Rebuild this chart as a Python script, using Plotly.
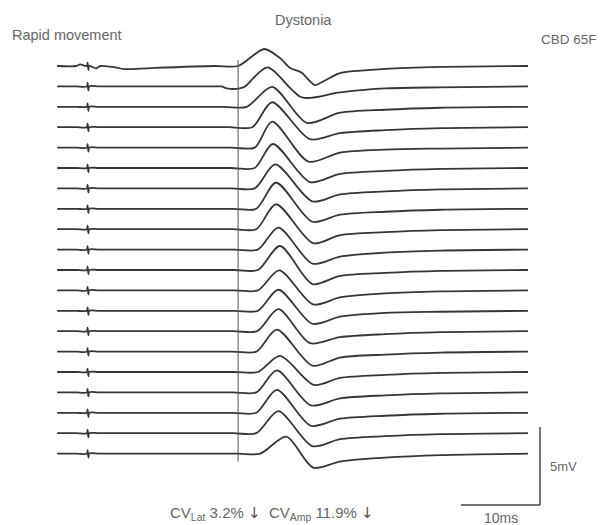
import plotly.graph_objects as go

# ---------------- data (ms relative to stimulus, mV relative to baseline) ----------------
trace_start_ms = -3.9
trace_end_ms = 55.7
reference_line_ms = 19.0

artifact_ms = [-0.15, -0.05, 0.05, 0.15]
artifact_mv = [0.0, 0.22, -0.26, 0.0]

onset_ms = [19.0, 19.9, 20.1, 20.8, 21.1, 21.1, 21.1, 21.3, 21.3, 21.5,
            21.5, 21.5, 21.5, 21.4, 21.3, 21.5, 21.3, 21.3, 21.3, 21.8]
peak_ms = [22.3, 22.7, 23.3, 23.3, 23.3, 23.4, 23.7, 23.8, 23.8, 24.1,
           24.3, 24.2, 24.1, 24.1, 23.9, 24.3, 23.9, 23.9, 24.1, 25.1]
peak_mv = [1.09, 1.22, 1.28, 1.60, 1.67, 1.54, 1.54, 1.67, 1.60, 1.41,
           1.54, 1.28, 1.35, 1.41, 1.41, 1.03, 1.41, 1.47, 1.41, 1.09]
trough_ms = [28.7, 27.1, 27.7, 28.1, 27.9, 28.1, 28.4, 28.4, 28.5, 28.4,
             28.4, 28.5, 28.4, 28.1, 28.4, 28.6, 28.2, 28.2, 28.4, 28.5]
trough_mv = [-1.22, -0.71, -1.03, -0.77, -0.90, -0.90, -0.83, -0.83, -0.90, -0.90,
             -0.90, -0.90, -0.83, -0.77, -0.90, -0.83, -0.83, -0.83, -0.83, -0.90]
rec1_ms = 31.9
rec1_mv = [-0.45, -0.38, -0.38, -0.38, -0.32, -0.38, -0.38, -0.38, -0.38, -0.45,
           -0.38, -0.45, -0.38, -0.38, -0.38, -0.38, -0.38, -0.38, -0.38, -0.51]
rec2_ms = 37.6
rec2_mv = [-0.19, -0.13, -0.19, -0.19, -0.13, -0.19, -0.19, -0.19, -0.19, -0.19,
           -0.19, -0.19, -0.13, -0.19, -0.19, -0.19, -0.19, -0.19, -0.19, -0.26]
rec3_ms = 44.6
rec3_mv = [-0.06, -0.06, -0.06, -0.06, -0.06, -0.06, -0.06, -0.06, -0.06, -0.06,
           -0.06, -0.06, -0.06, -0.06, -0.06, -0.06, -0.06, -0.06, -0.06, -0.10]

# extra detail points read from individual sweeps
extra_points = {
    0: [(-1.0, 0.1), (1.0, -0.15), (1.6, 0.0), (3.6, -0.1), (4.5, -0.2), (8.0, -0.13),
        (24.3, 0.51), (25.6, -0.13), (26.6, -0.32), (27.1, -0.45), (29.4, -1.09), (30.6, -0.77)],
    1: [(16.3, 0.0), (17.6, -0.13), (19.2, -0.13)],
}

scale_ms = 10
scale_mv = 5

title_left = "Rapid movement"
title_mid = "Dystonia"
title_right = "CBD 65F"
arrow = '<span style="font-family:DejaVu Sans;color:#555555">↓</span>'
cv_text = "CV<sub>Lat</sub> 3.2% " + arrow + "  CV<sub>Amp</sub> 11.9% " + arrow
scale_mv_label = "5mV"
scale_ms_label = "10ms"

# ---------------- layout constants (pixel mapping) ----------------
PAGE_MARGIN = 8          # browser body margin
W, H = 605 - PAGE_MARGIN, 525 - PAGE_MARGIN
PX_PER_MS = 7.9
PX_PER_MV = 15.6
STIM_PX = 88 - PAGE_MARGIN
BASE1_PX = 66 - PAGE_MARGIN
SPACING_MV = 20.4 / PX_PER_MV

x_range = [(0 - STIM_PX) / PX_PER_MS, (W - STIM_PX) / PX_PER_MS]
y_range = [(BASE1_PX - H) / PX_PER_MV, BASE1_PX / PX_PER_MV]

LINE_COLOR = "#363636"
TEXT_COLOR = "#666666"


def px_to_x(px):
    return (px - PAGE_MARGIN - STIM_PX) / PX_PER_MS


def px_to_y(py):
    return (BASE1_PX - (py - PAGE_MARGIN)) / PX_PER_MV


fig = go.Figure()

n = len(onset_ms)
for i in range(n):
    off = -i * SPACING_MV
    pts = [(trace_start_ms, 0.0), (-1.5, 0.0)]
    pts += list(zip(artifact_ms, artifact_mv))
    pts += [(1.5, 0.0), (onset_ms[i] - 3.0, 0.0), (onset_ms[i], 0.0),
            (peak_ms[i], peak_mv[i]), (trough_ms[i], trough_mv[i]),
            (rec1_ms, rec1_mv[i]), (rec2_ms, rec2_mv[i]), (rec3_ms, rec3_mv[i]),
            (trace_end_ms, 0.0)]
    extra = extra_points.get(i, [])
    if extra:
        ex_t = [p[0] for p in extra]
        pts = [p for p in pts if all(abs(p[0] - t) > 0.3 for t in ex_t)] + extra
    pts.sort(key=lambda p: p[0])
    fig.add_trace(go.Scatter(
        x=[p[0] for p in pts], y=[p[1] + off for p in pts],
        mode="lines", line=dict(color=LINE_COLOR, width=1.8, shape="spline", smoothing=0.8),
        hoverinfo="skip", showlegend=False))

# reference vertical line
top_y = 6 / PX_PER_MV
bot_y = -(n - 1) * SPACING_MV - 8 / PX_PER_MV
fig.add_shape(type="line", x0=reference_line_ms, x1=reference_line_ms, y0=top_y, y1=bot_y,
              line=dict(color="#555555", width=1))

# scale bars
sb_x = px_to_x(540)
sb_y = px_to_y(505)
fig.add_shape(type="line", x0=sb_x, x1=sb_x, y0=sb_y, y1=sb_y + scale_mv,
              line=dict(color="#444444", width=1.5))
fig.add_shape(type="line", x0=sb_x - scale_ms, x1=sb_x, y0=sb_y, y1=sb_y,
              line=dict(color="#444444", width=1.5))

anns = [
    (title_left, 10, 35, "left", 14.5),
    (title_mid, 303, 20, "center", 14.5),
    (title_right, 539, 39, "left", 13.5),
    (scale_mv_label, 548, 466, "left", 13),
    (scale_ms_label, 501, 518, "center", 14),
    (cv_text, 272, 513, "center", 15),
]
for txt, px, py, anchor, fs in anns:
    fig.add_annotation(x=px_to_x(px), y=px_to_y(py), text=txt, showarrow=False,
                       xanchor=anchor, yanchor="middle",
                       font=dict(family="Liberation Sans, Arial, sans-serif", size=fs,
                                 color=TEXT_COLOR))

fig.update_layout(
    width=W, height=H, margin=dict(l=0, r=0, t=0, b=0),
    paper_bgcolor="white", plot_bgcolor="white",
    xaxis=dict(range=x_range, visible=False, fixedrange=True),
    yaxis=dict(range=y_range, visible=False, fixedrange=True),
    showlegend=False,
)

fig.write_html("out.html")
